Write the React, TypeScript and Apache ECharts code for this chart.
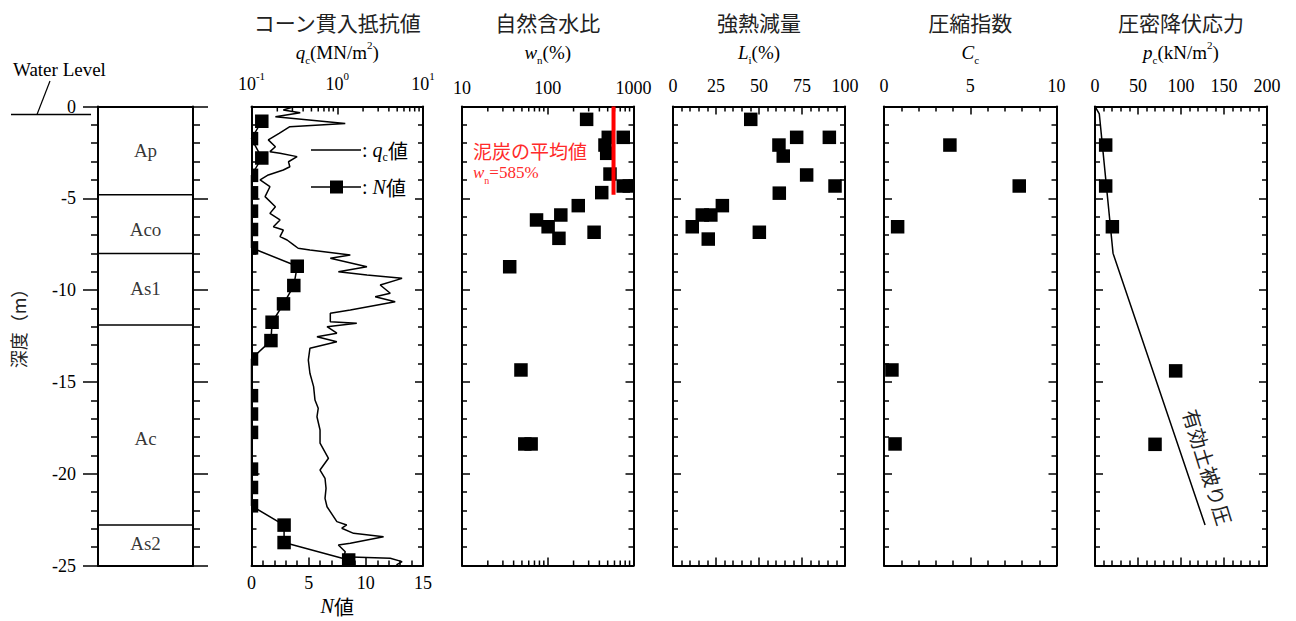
import React, { useEffect, useRef } from 'react';
import * as echarts from 'echarts';

const SERIF = "'Liberation Serif', 'Times New Roman', serif";
const CJK = "'Noto Sans CJK JP', 'Noto Sans CJK SC', sans-serif";

// ---------- data ----------
const depthTickLabels = [0, -5, -10, -15, -20, -25];

const layerNames = ['Ap', 'Aco', 'As1', 'Ac', 'As2'];
const layerBoundaries = [-4.8, -8.0, -11.9, -22.8];
const layerLabelDepths = [-2.4, -6.7, -9.9, -18.1, -23.8];

const nDepths = [-0.8, -1.75, -2.8, -3.75, -4.7, -5.7, -6.7, -7.7, -8.7, -9.75, -10.75, -11.75, -12.75, -13.75, -15.75, -16.75, -17.75, -19.75, -20.75, -21.75, -22.8, -23.75, -24.7];
const nValues = [0.9, 0, 0.9, 0, 0, 0, 0, 0, 4.0, 3.7, 2.8, 1.8, 1.7, 0, 0, 0, 0, 0, 0, 0, 2.85, 2.85, 8.5];

const qcDepths = [-0.01, -0.19, -0.34, -0.56, -0.92, -1.1, -1.46, -1.82, -2.19, -2.46, -2.55, -2.73, -3.01, -3.28, -3.46, -3.73, -4.0, -4.37, -4.91, -5.46, -5.82, -6.18, -6.55, -6.73, -7.09, -7.27, -7.54, -7.72, -7.82, -8.09, -8.27, -8.73, -9.0, -9.18, -9.36, -9.72, -10.17, -10.36, -10.63, -11.08, -11.26, -11.72, -11.81, -11.99, -12.35, -12.54, -12.81, -13.17, -13.81, -14.53, -15.26, -15.99, -16.44, -16.9, -17.62, -18.34, -19.16, -19.8, -20.25, -20.8, -21.34, -21.8, -22.61, -22.79, -22.97, -23.25, -23.43, -23.79, -23.88, -24.25, -24.52, -24.61, -24.79, -24.97];
const qcValues = [0.31, 0.235, 0.37, 0.19, 1.24, 0.28, 0.21, 0.157, 0.19, 0.164, 0.215, 0.34, 0.27, 0.28, 0.235, 0.157, 0.126, 0.164, 0.144, 0.19, 0.164, 0.215, 0.18, 0.235, 0.215, 0.26, 0.31, 0.35, 0.48, 1.42, 0.83, 2.22, 1.03, 2.22, 5.7, 3.17, 4.15, 2.77, 4.74, 1.42, 0.83, 0.83, 1.69, 0.76, 0.99, 0.58, 0.99, 0.48, 0.46, 0.48, 0.53, 0.55, 0.6, 0.58, 0.63, 0.63, 0.79, 0.63, 0.72, 0.74, 0.72, 0.76, 0.99, 1.29, 1.13, 1.55, 3.47, 1.42, 1.03, 1.24, 1.18, 4.15, 5.7, 4.9];

const wnDepths = [-0.7, -1.68, -1.68, -2.1, -2.55, -3.68, -4.33, -4.33, -4.69, -5.4, -5.91, -6.18, -6.55, -6.85, -7.18, -8.73, -14.35, -18.38, -18.38];
const wnValues = [284, 508, 760, 465, 487, 532, 760, 893, 426, 227, 142, 74, 101, 347, 135, 36, 48.7, 54, 64];
const peatMeanWn = 585;
const peatDepthRange = [0, -4.8];

const liDepths = [-0.7, -1.68, -1.68, -2.1, -2.7, -3.73, -4.33, -4.72, -5.4, -5.91, -5.91, -6.55, -6.85, -7.22];
const liValues = [45.2, 71.9, 90.9, 61.6, 64.1, 77.7, 94.2, 61.8, 28.7, 17, 22, 11.2, 50.2, 20.5];

const ccDepths = [-2.1, -4.33, -6.55, -14.35, -18.38];
const ccValues = [3.82, 7.84, 0.79, 0.46, 0.64];

const pcDepths = [-2.1, -4.33, -6.55, -14.4, -18.4];
const pcValues = [12.4, 12.4, 20.2, 93.8, 69.8];

const overburdenDepths = [0, -0.4, -8.0, -22.8];
const overburdenValues = [0, 5, 21, 128];

const qcMinorTicks = [0.2, 0.3, 0.4, 0.5, 0.6, 0.7, 0.8, 0.9, 2, 3, 4, 5, 6, 7, 8, 9];
const wnMinorTicks = [20, 30, 40, 50, 60, 70, 80, 90, 200, 300, 400, 500, 600, 700, 800, 900];

const panelTitles = ['コーン貫入抵抗値', '自然含水比', '強熱減量', '圧縮指数', '圧密降伏応力'];
const panelUnits = [
  '{i|q}{s|c}{n|(MN/m}{p|2}{n|)}',
  '{i|w}{s|n}{n|(%)}',
  '{i|L}{s|i}{n|(%)}',
  '{i|C}{s|c}',
  '{i|p}{s|c}{n|(kN/m}{p|2}{n|)}',
];

// ---------- layout ----------
const Y_TOP = 106.5;
const Y_H = 459;
const gridDefs = [
  [98, 95],
  [251.5, 171.5],
  [462, 171.5],
  [673, 172],
  [884, 172.5],
  [1095, 172],
];

const axisLineStyle = { color: '#000', width: 2 };
const tickLine = { color: '#000', width: 1.5 };
const labelFont = { fontFamily: SERIF, fontSize: 18, color: '#000' };

function unitRich(size: number, color = '#000') {
  return {
    i: { fontFamily: SERIF, fontStyle: 'italic', fontSize: size, lineHeight: 26, fill: color, color },
    n: { fontFamily: SERIF, fontSize: size, lineHeight: 26, fill: color, color },
    s: { fontFamily: SERIF, fontSize: Math.round(size * 0.6), verticalAlign: 'bottom', fill: color, color },
    p: { fontFamily: SERIF, fontSize: Math.round(size * 0.6), verticalAlign: 'top', fill: color, color },
    j: { fontFamily: CJK, fontSize: size, lineHeight: 26, fill: color, color },
  };
}

function yAxisOf(g: number, pos: string) {
  const strat = g === 0;
  return {
    type: 'value', gridIndex: g, position: pos, min: -25, max: 0, interval: 5,
    axisLine: { show: true, onZero: false, lineStyle: axisLineStyle },
    axisTick: { show: true, inside: !strat, length: strat ? 15 : 8, lineStyle: tickLine },
    minorTick: { show: true, splitNumber: 5, length: strat ? 7 : 5, lineStyle: tickLine },
    splitLine: { show: false },
    minorSplitLine: { show: false },
    axisLabel: {
      show: strat && pos === 'left', margin: 22, ...labelFont,
      formatter: (v: number) => (depthTickLabels.includes(v) ? String(v) : ''),
    },
  };
}

function valueX(g: number, pos: string, min: number, max: number, interval: number, showLabel: boolean) {
  return {
    type: 'value', gridIndex: g, position: pos, min, max, interval,
    axisLine: { show: true, onZero: false, lineStyle: axisLineStyle },
    axisTick: { show: true, inside: true, length: 8, lineStyle: tickLine },
    minorTick: { show: true, splitNumber: 5, length: 5, lineStyle: tickLine },
    splitLine: { show: false },
    minorSplitLine: { show: false },
    axisLabel: { show: showLabel, margin: pos === 'top' ? 12 : 8, ...labelFont },
  };
}

function logX(g: number, pos: string, min: number, max: number, showLabel: boolean, sup: boolean) {
  return {
    type: 'log', logBase: 10, gridIndex: g, position: pos, min, max,
    axisLine: { show: true, onZero: false, lineStyle: axisLineStyle },
    axisTick: { show: true, inside: true, length: 8, lineStyle: tickLine },
    minorTick: { show: false },
    splitLine: { show: false },
    axisLabel: {
      show: showLabel, margin: 10, ...labelFont,
      formatter: sup
        ? (v: number) => `{b|10}{p|${Math.round(Math.log10(v))}}`
        : (v: number) => String(Math.round(v)),
      rich: {
        b: { fontFamily: SERIF, fontSize: 18, lineHeight: 26, color: '#000' },
        p: { fontFamily: SERIF, fontSize: 11, verticalAlign: 'top', color: '#000' },
      },
    },
  };
}

function squareSeries(xi: number, yi: number, xs: number[], ds: number[]) {
  return {
    type: 'custom', xAxisIndex: xi, yAxisIndex: yi,
    data: xs.map((v, i) => [v, ds[i]]),
    renderItem: (params: any, api: any) => {
      const p = api.coord([api.value(0), api.value(1)]);
      const cs = params.coordSys;
      const h = 6.75;
      const x0 = Math.max(p[0] - h, cs.x);
      const x1 = Math.min(p[0] + h, cs.x + cs.width);
      const y0 = Math.max(p[1] - h, cs.y);
      const y1 = Math.min(p[1] + h, cs.y + cs.height);
      return { type: 'rect', shape: { x: x0, y: y0, width: x1 - x0, height: y1 - y0 }, style: { fill: '#000' } };
    },
    z: 5,
  };
}

function minorTickSeries(xi: number, yi: number, vals: number[], both: boolean) {
  return {
    type: 'custom', xAxisIndex: xi, yAxisIndex: yi,
    data: vals.map((v) => [v, -12]),
    renderItem: (params: any, api: any) => {
      const x = api.coord([api.value(0), -12])[0];
      const cs = params.coordSys;
      const children: any[] = [
        { type: 'line', shape: { x1: x, y1: cs.y, x2: x, y2: cs.y + 5 }, style: { stroke: '#000', lineWidth: 1.5 } },
      ];
      if (both) {
        children.push({ type: 'line', shape: { x1: x, y1: cs.y + cs.height, x2: x, y2: cs.y + cs.height - 5 }, style: { stroke: '#000', lineWidth: 1.5 } });
      }
      return { type: 'group', children };
    },
  };
}

function buildOption() {
  const grid = gridDefs.map(([l, w]) => ({ left: l, top: Y_TOP, width: w, height: Y_H, containLabel: false }));

  const noLab = {
    type: 'value', min: 0, max: 1,
    axisLine: { show: true, onZero: false, lineStyle: axisLineStyle },
    axisTick: { show: false }, axisLabel: { show: false }, splitLine: { show: false },
  };

  const xAxis = [
    { ...noLab, gridIndex: 0, position: 'top' },
    { ...noLab, gridIndex: 0, position: 'bottom' },
    logX(1, 'top', 0.1, 10, true, true),
    valueX(1, 'bottom', 0, 15, 5, true),
    logX(2, 'top', 10, 1000, true, false),
    logX(2, 'bottom', 10, 1000, false, false),
    valueX(3, 'top', 0, 100, 25, true),
    valueX(3, 'bottom', 0, 100, 25, false),
    valueX(4, 'top', 0, 10, 5, true),
    valueX(4, 'bottom', 0, 10, 5, false),
    valueX(5, 'top', 0, 200, 50, true),
    valueX(5, 'bottom', 0, 200, 50, false),
  ];

  const yAxis: any[] = [];
  for (let g = 0; g < 6; g++) {
    yAxis.push(yAxisOf(g, 'left'));
    yAxis.push(yAxisOf(g, 'right'));
  }

  const series: any[] = [
    {
      type: 'custom', xAxisIndex: 0, yAxisIndex: 0,
      data: layerBoundaries.map((d) => [0, d]),
      renderItem: (params: any, api: any) => {
        const y = api.coord([0, api.value(1)])[1];
        const cs = params.coordSys;
        return { type: 'line', shape: { x1: cs.x, y1: y, x2: cs.x + cs.width, y2: y }, style: { stroke: '#000', lineWidth: 1.5 } };
      },
    },
    {
      type: 'scatter', xAxisIndex: 0, yAxisIndex: 0, symbolSize: 1,
      itemStyle: { color: 'rgba(0,0,0,0)' },
      data: layerNames.map((n, i) => ({ name: n, value: [0.5, layerLabelDepths[i]] })),
      label: { show: true, position: 'inside', formatter: '{b}', fontFamily: SERIF, fontSize: 19, color: '#000' },
    },
    {
      type: 'line', xAxisIndex: 2, yAxisIndex: 2, symbol: 'none',
      data: qcValues.map((v, i) => [v, qcDepths[i]]),
      lineStyle: { color: '#000', width: 1.5 },
    },
    minorTickSeries(2, 2, qcMinorTicks, false),
    {
      type: 'line', xAxisIndex: 3, yAxisIndex: 2, symbol: 'none',
      data: nValues.map((v, i) => [v, nDepths[i]]),
      lineStyle: { color: '#000', width: 1.5 },
    },
    squareSeries(3, 2, nValues, nDepths),
    squareSeries(4, 4, wnValues, wnDepths),
    {
      type: 'line', xAxisIndex: 4, yAxisIndex: 4, symbol: 'none',
      data: peatDepthRange.map((d) => [peatMeanWn, d]),
      lineStyle: { color: '#ff0000', width: 4 }, z: 6,
    },
    minorTickSeries(4, 4, wnMinorTicks, true),
    squareSeries(6, 6, liValues, liDepths),
    squareSeries(8, 8, ccValues, ccDepths),
    squareSeries(10, 10, pcValues, pcDepths),
    {
      type: 'line', xAxisIndex: 10, yAxisIndex: 10, symbol: 'none',
      data: overburdenValues.map((v, i) => [v, overburdenDepths[i]]),
      lineStyle: { color: '#000', width: 1.5 },
    },
  ];

  const centers = gridDefs.slice(1).map(([l, w]) => l + w / 2);
  const graphic: any[] = [];
  panelTitles.forEach((t, i) => {
    graphic.push({
      type: 'text', x: centers[i], y: 22,
      style: { text: t, fontFamily: CJK, fontSize: 21, fill: '#222', textAlign: 'center', textVerticalAlign: 'middle', align: 'center', verticalAlign: 'middle' },
    });
    graphic.push({
      type: 'text', x: centers[i], y: 52,
      style: { text: panelUnits[i], rich: unitRich(19), fill: '#000', textAlign: 'center', textVerticalAlign: 'middle', align: 'center', verticalAlign: 'middle' },
    });
  });

  graphic.push({
    type: 'text', x: 18, y: 324, rotation: Math.PI / 2,
    style: { text: '深度（m）', fontFamily: CJK, fontSize: 18, fill: '#222', textAlign: 'center', textVerticalAlign: 'middle', align: 'center', verticalAlign: 'middle' },
  });

  graphic.push({ type: 'line', shape: { x1: 11, y1: 114.5, x2: 91, y2: 114.5 }, style: { stroke: '#000', lineWidth: 1.5 } });
  graphic.push({ type: 'line', shape: { x1: 37, y1: 114.5, x2: 50, y2: 81 }, style: { stroke: '#000', lineWidth: 1.2 } });
  graphic.push({
    type: 'text', x: 13, y: 69,
    style: { text: 'Water Level', fontFamily: SERIF, fontSize: 19, fill: '#000', textAlign: 'left', textVerticalAlign: 'middle', align: 'left', verticalAlign: 'middle' },
  });

  graphic.push({ type: 'line', shape: { x1: 311, y1: 150, x2: 361, y2: 150 }, style: { stroke: '#000', lineWidth: 1.5 } });
  graphic.push({
    type: 'text', x: 362, y: 150,
    style: { text: '{n|: }{i|q}{s|c}{j|値}', rich: unitRich(20), textAlign: 'left', textVerticalAlign: 'middle', align: 'left', verticalAlign: 'middle' },
  });
  graphic.push({ type: 'line', shape: { x1: 311, y1: 187, x2: 361, y2: 187 }, style: { stroke: '#000', lineWidth: 1.5 } });
  graphic.push({ type: 'rect', shape: { x: 330, y: 180.5, width: 13, height: 13 }, style: { fill: '#000' } });
  graphic.push({
    type: 'text', x: 362, y: 187,
    style: { text: '{n|: }{i|N}{j|値}', rich: unitRich(20), textAlign: 'left', textVerticalAlign: 'middle', align: 'left', verticalAlign: 'middle' },
  });

  graphic.push({
    type: 'text', x: centers[0], y: 606,
    style: { text: '{i|N}{j|値}', rich: unitRich(20), textAlign: 'center', textVerticalAlign: 'middle', align: 'center', verticalAlign: 'middle' },
  });

  graphic.push({
    type: 'text', x: 473, y: 150,
    style: { text: '泥炭の平均値', fontFamily: CJK, fontSize: 19, fill: '#ff2a2a', textAlign: 'left', textVerticalAlign: 'middle', align: 'left', verticalAlign: 'middle' },
  });
  graphic.push({
    type: 'text', x: 473, y: 172,
    style: { text: '{i|w}{s|n}{n|=585%}', rich: unitRich(17, '#ff2a2a'), fill: '#ff2a2a', textAlign: 'left', textVerticalAlign: 'middle', align: 'left', verticalAlign: 'middle' },
  });

  graphic.push({
    type: 'text', x: 1208, y: 467, rotation: -1.27,
    style: { text: '有効土被り圧', fontFamily: CJK, fontSize: 20, fill: '#222', textAlign: 'center', textVerticalAlign: 'middle', align: 'center', verticalAlign: 'middle' },
  });

  return { animation: false, backgroundColor: '#fff', grid, xAxis, yAxis, series, graphic };
}

export default function App() {
  const ref = useRef<HTMLDivElement>(null);
  useEffect(() => {
    if (!ref.current) return;
    const chart = echarts.init(ref.current, null, { renderer: 'svg' });
    chart.setOption(buildOption() as any);
    return () => chart.dispose();
  }, []);
  return <div ref={ref} style={{ position: 'fixed', left: 0, top: 0, width: 1296, height: 621, background: '#fff' }} />;
}
